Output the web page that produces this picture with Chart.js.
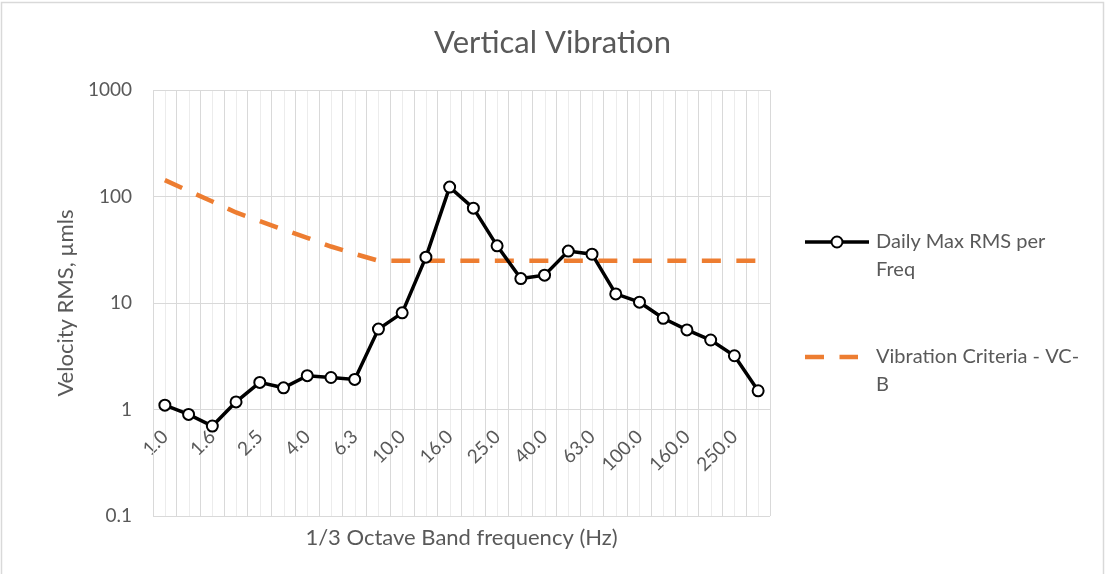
<!DOCTYPE html>
<html>
<head>
<meta charset="utf-8">
<script src="https://cdn.jsdelivr.net/npm/chart.js@4.4.1/dist/chart.umd.min.js"></script>
<style>
  html, body { margin: 0; padding: 0; background: #fff; }
  #wrap { position: relative; width: 1105px; height: 574px; }
</style>
</head>
<body>
<div id="wrap"><canvas id="vib" width="1105" height="574"></canvas></div>
<script>
// --- data ------------------------------------------------------------------
const bandLabels = ['1.0', '1.25', '1.6', '2.0', '2.5', '3.15', '4.0', '5.0', '6.3', '8.0',
                    '10.0', '12.5', '16.0', '20.0', '25.0', '31.5', '40.0', '50.0', '63.0',
                    '80.0', '100.0', '125.0', '160.0', '200.0', '250.0', '315.0'];
const dailyMaxRms = [1.1, 0.9, 0.7, 1.18, 1.8, 1.6, 2.08, 2.0, 1.92, 5.7,
                     8.1, 27, 123, 78, 34.5, 17, 18.3, 30.8, 28.8,
                     12.2, 10.2, 7.2, 5.6, 4.5, 3.2, 1.5];
const vcB = [143, 113, 90, 71, 59, 49, 41, 34, 29, 25,
             25, 25, 25, 25, 25, 25, 25, 25, 25,
             25, 25, 25, 25, 25, 25, 25];
const yTicks = [0.1, 1, 10, 100, 1000];
const seriesNames = ['Daily Max RMS per Freq', 'Vibration Criteria - VC-B'];
const legendRows = [['Daily Max RMS per', 'Freq'], ['Vibration Criteria - VC-', 'B']];

const FONT = 'Lato, "Open Sans", sans-serif';
const TXT = '#595959';
const GRID = '#d9d9d9';

// background, outer frame and the light grid line through each band centre
const framePlugin = {
    id: 'frame',
    afterLayout(chart) {
        // title is centred on the whole canvas, not on the plot
        const t = chart.titleBlock;
        if (t) { t.left = 0; t.right = chart.width; t.width = chart.width; }
    },
    beforeDraw(chart) {
        const { ctx, chartArea: a, scales: { x } } = chart;
        ctx.save();
        ctx.fillStyle = '#fff';
        ctx.fillRect(0, 0, chart.width, chart.height);
        ctx.strokeStyle = GRID;
        ctx.lineWidth = 1.5;
        ctx.beginPath();
        ctx.moveTo(1.5, chart.height);
        ctx.lineTo(1.5, 2.5);
        ctx.lineTo(chart.width - 1.5, 2.5);
        ctx.lineTo(chart.width - 1.5, chart.height);
        ctx.stroke();
        ctx.strokeStyle = '#ececec';
        ctx.lineWidth = 1;
        bandLabels.forEach((b, i) => {
            const px = Math.round(x.getPixelForValue(i)) + 0.5;
            ctx.beginPath();
            ctx.moveTo(px, a.top);
            ctx.lineTo(px, a.bottom);
            ctx.stroke();
        });
        ctx.restore();
    }
};

// legend on the right, two wrapped rows per entry
const legendPlugin = {
    id: 'sideLegend',
    afterDraw(chart) {
        const ctx = chart.ctx;
        const ds = chart.data.datasets;
        const x0 = 805, x1 = 869, tx = 876;
        const rows = [242, 357];
        ctx.save();
        rows.forEach((y, k) => {
            const d = ds[k];
            ctx.strokeStyle = d.borderColor;
            ctx.lineWidth = d.borderWidth;
            ctx.setLineDash(d.borderDash || []);
            ctx.beginPath();
            ctx.moveTo(x0, y);
            ctx.lineTo(k === 1 ? 858 : x1, y);
            ctx.stroke();
            ctx.setLineDash([]);
            if (d.pointRadius) {
                ctx.beginPath();
                ctx.arc((x0 + x1) / 2, y, d.pointRadius, 0, Math.PI * 2);
                ctx.fillStyle = d.pointBackgroundColor;
                ctx.fill();
                ctx.lineWidth = d.pointBorderWidth;
                ctx.strokeStyle = d.pointBorderColor;
                ctx.stroke();
            }
            ctx.fillStyle = TXT;
            ctx.font = '20px ' + FONT;
            ctx.textBaseline = 'middle';
            ctx.textAlign = 'left';
            legendRows[k].forEach((t, j) => ctx.fillText(t, tx, y + j * 28));
        });
        ctx.restore();
    }
};

new Chart(document.getElementById('vib'), {
    type: 'line',
    data: {
        labels: bandLabels,
        datasets: [
            {
                label: seriesNames[0],
                data: dailyMaxRms,
                borderColor: '#000000',
                borderWidth: 3.5,
                pointRadius: 5.5,
                pointBorderWidth: 2,
                pointBackgroundColor: '#ffffff',
                pointBorderColor: '#000000',
                tension: 0
            },
            {
                label: seriesNames[1],
                data: vcB,
                borderColor: '#ED7D31',
                borderWidth: 4.5,
                borderDash: [19, 15.5],
                pointRadius: 0,
                tension: 0
            }
        ]
    },
    options: {
        responsive: false,
        animation: false,
        layout: { padding: { left: 0, right: 335, top: 0, bottom: 58 } },
        plugins: {
            legend: { display: false },
            tooltip: { enabled: false },
            title: {
                display: true,
                text: 'Vertical Vibration',
                color: TXT,
                font: { family: FONT, size: 31, weight: 'normal' },
                padding: { top: 24, bottom: 29 }
            }
        },
        scales: {
            x: {
                position: { y: 1 },
                offset: true,
                grid: { offset: true, color: GRID, drawTicks: false },
                border: { color: GRID },
                ticks: {
                    autoSkip: false,
                    minRotation: 45,
                    maxRotation: 45,
                    padding: 16,
                    color: TXT,
                    font: { family: FONT, size: 19 },
                    callback: (v, i) => (i % 2 === 0 ? bandLabels[i] : '')
                },
                title: {
                    display: true,
                    text: '1/3 Octave Band frequency (Hz)',
                    color: TXT,
                    font: { family: FONT, size: 22 },
                    padding: { top: 0, bottom: -84 }
                },
                afterFit: (s) => { s.height = 58; }
            },
            y: {
                type: 'logarithmic',
                min: 0.1,
                max: 1000,
                afterBuildTicks: (s) => { s.ticks = yTicks.map(v => ({ value: v })); },
                grid: { color: GRID, drawTicks: false },
                border: { color: GRID },
                ticks: {
                    padding: 21,
                    color: TXT,
                    font: { family: FONT, size: 19 },
                    callback: (v) => String(v)
                },
                title: {
                    display: true,
                    text: 'Velocity RMS, µmls',
                    color: TXT,
                    font: { family: FONT, size: 22 },
                    padding: { top: 53, bottom: 0 }
                },
                afterFit: (s) => { s.width = 153; }
            }
        }
    },
    plugins: [framePlugin, legendPlugin]
});
</script>
</body>
</html>
